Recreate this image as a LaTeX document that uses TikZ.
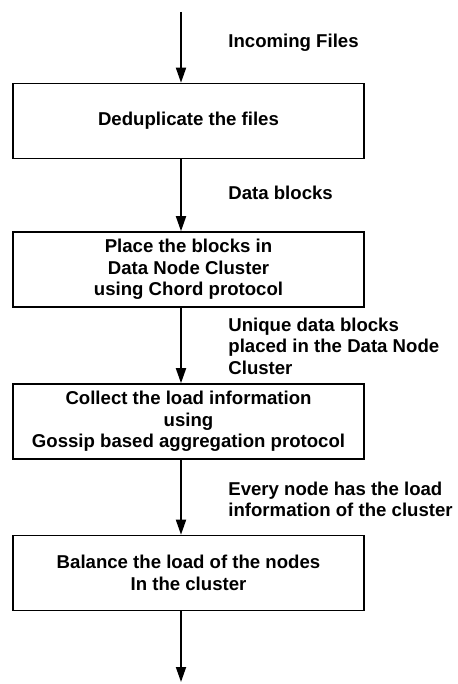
\documentclass[tikz,border=0pt]{standalone}
\usepackage{fontspec}
\setmainfont{Liberation Sans}
\usetikzlibrary{arrows.meta}

\tikzset{
  boite/.style={draw, line width=0.8pt, minimum width=175.5pt, minimum height=37.5pt,
    align=center, inner sep=0pt, font=\fontsize{9.3}{10.75}\selectfont\bfseries},
  etiq/.style={anchor=west, align=left, inner sep=0pt,
    font=\fontsize{9.3}{10.75}\selectfont\bfseries},
  fleche/.style={line width=0.9pt, -{Triangle[length=7.5pt,width=5pt]}}
}

\begin{document}
\begin{tikzpicture}[x=0.5pt, y=-0.5pt]
        \useasboundingbox (0,0) rectangle (457,684);
        % Étapes du traitement
        \node[boite] (b1) at (188.5,121) {Deduplicate the files};
        \node[boite] (b2) at (188.5,269.5) {Place the blocks in\\Data Node Cluster\\using Chord protocol};
        \node[boite] (b3) at (188.5,421.5) {Collect the load information\\using\\Gossip based aggregation protocol};
        \node[boite] (b4) at (188.5,573) {Balance the load of the nodes\\In the cluster};
        % Entrée et sortie
        \coordinate (entree) at (181,12);
        \coordinate (sortie) at (181,682);
        % Flèches entre les étapes
        \draw[fleche] (entree) -- ([xshift=-3.75pt]b1.north);
        \draw[fleche] ([xshift=-3.75pt]b1.south) -- ([xshift=-3.75pt]b2.north);
        \draw[fleche] ([xshift=-3.75pt]b2.south) -- ([xshift=-3.75pt]b3.north);
        \draw[fleche] ([xshift=-3.75pt]b3.south) -- ([xshift=-3.75pt]b4.north);
        \draw[fleche] ([xshift=-3.75pt]b4.south) -- (sortie);
        % Étiquettes des flèches
        \node[etiq] (e1) at (228,43) {Incoming Files};
        \node[etiq] (e2) at (228,193) {Data blocks};
        \node[etiq] (e3) at (228,346) {Unique data blocks\\placed in the Data Node\\Cluster};
        \node[etiq] (e4) at (228,499.5) {Every node has the load\\information of the cluster};
    \end{tikzpicture}
\end{document}
